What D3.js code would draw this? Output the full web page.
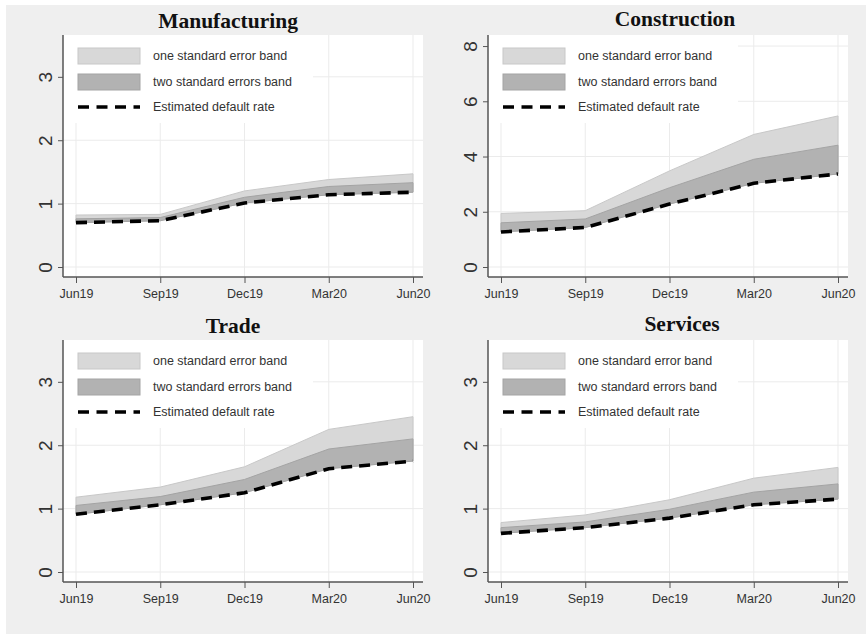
<!DOCTYPE html>
<html><head><meta charset="utf-8">
<script src="https://cdn.jsdelivr.net/npm/d3@7"></script>
<style>
html,body{margin:0;padding:0;background:#fff;}
svg{display:block;}
</style></head>
<body>
<script>
// ---- data ----
const quarters = ["Jun19","Sep19","Dec19","Mar20","Jun20"];
const panelTitles = ["Manufacturing","Construction","Trade","Services"];

const manufEst   = [0.70,0.73,1.01,1.14,1.18];
const manufTwo   = [0.76,0.78,1.10,1.27,1.33];
const manufOne   = [0.82,0.83,1.20,1.38,1.47];

const constrEst  = [1.27,1.43,2.28,3.03,3.37];
const constrTwo  = [1.60,1.74,2.87,3.90,4.41];
const constrOne  = [1.94,2.04,3.48,4.80,5.47];

const tradeEst   = [0.91,1.06,1.25,1.63,1.75];
const tradeTwo   = [1.05,1.19,1.46,1.94,2.10];
const tradeOne   = [1.18,1.34,1.66,2.25,2.45];

const servEst    = [0.61,0.70,0.85,1.06,1.15];
const servTwo    = [0.70,0.79,0.99,1.26,1.39];
const servOne    = [0.78,0.90,1.14,1.48,1.65];

const yTicksUnit   = [0,1,2,3];
const yTicksConstr = [0,2,4,6,8];

const legendLabels = ["one standard error band","two standard errors band","Estimated default rate"];

// ---- layout ----
const W = 867, H = 634;
const svg = d3.select("body").append("svg").attr("width", W).attr("height", H);
svg.append("rect").attr("x",6).attr("y",5).attr("width",W-7).attr("height",H-5).attr("fill","#efefef");

const panels = [
  {title:panelTitles[0], est:manufEst,  two:manufTwo,  one:manufOne,  ticks:yTicksUnit,   yTop:3.66, L:63,  T:35,  tx:228, ty:28},
  {title:panelTitles[1], est:constrEst, two:constrTwo, one:constrOne, ticks:yTicksConstr, yTop:8.4,  L:488, T:35,  tx:675, ty:26},
  {title:panelTitles[2], est:tradeEst,  two:tradeTwo,  one:tradeOne,  ticks:yTicksUnit,   yTop:3.66, L:63,  T:340, tx:233, ty:333},
  {title:panelTitles[3], est:servEst,   two:servTwo,   one:servOne,   ticks:yTicksUnit,   yTop:3.66, L:488, T:340, tx:682, ty:331}
];

const lightFill = "#d8d8d8", lightStroke = "#c8c8c8";
const darkFill = "#b2b2b2", darkStroke = "#a4a4a4";
const fontSans = "'Liberation Sans', Arial, sans-serif";
const fontSerif = "'Liberation Serif', 'Times New Roman', serif";

panels.forEach(p => {
  const g = svg.append("g");
  const PW = 360, PH = 242;
  const B = p.T + PH;
  const x = d3.scalePoint().domain(quarters).range([p.L + 13, p.L + 350]);
  const y = d3.scaleLinear().domain([0, p.yTop]).range([B - 10, p.T]);

  // plot region
  g.append("rect").attr("x", p.L).attr("y", p.T).attr("width", PW).attr("height", PH).attr("fill", "#fff");

  // grid
  g.selectAll(".hg").data(p.ticks).join("line")
    .attr("x1", p.L).attr("x2", p.L + PW)
    .attr("y1", d => y(d)).attr("y2", d => y(d))
    .attr("stroke", "#ebebeb").attr("stroke-width", 1);
  g.selectAll(".vg").data(quarters).join("line")
    .attr("x1", d => x(d)).attr("x2", d => x(d))
    .attr("y1", p.T).attr("y2", B)
    .attr("stroke", "#ebebeb").attr("stroke-width", 1);

  // legend background (covers grid)
  g.append("rect").attr("x", p.L + 1).attr("y", p.T).attr("width", 249).attr("height", 88).attr("fill", "#fff");

  const idx = d3.range(quarters.length);
  const areaOne = d3.area().x(i => x(quarters[i])).y0(i => y(p.est[i])).y1(i => y(p.one[i]));
  const areaTwo = d3.area().x(i => x(quarters[i])).y0(i => y(p.est[i])).y1(i => y(p.two[i]));
  g.append("path").datum(idx).attr("d", areaOne).attr("fill", lightFill).attr("stroke", lightStroke).attr("stroke-width", 1);
  g.append("path").datum(idx).attr("d", areaTwo).attr("fill", darkFill).attr("stroke", darkStroke).attr("stroke-width", 1);
  const line = d3.line().x(i => x(quarters[i])).y(i => y(p.est[i]));
  g.append("path").datum(idx).attr("d", line).attr("fill", "none")
    .attr("stroke", "#000").attr("stroke-width", 3.6).attr("stroke-dasharray", "11,7");

  // axes
  const yAxis = d3.axisLeft(y).tickValues(p.ticks).tickSize(5).tickFormat(d3.format("d"));
  const ya = g.append("g").attr("transform", `translate(${p.L},0)`).call(yAxis);
  ya.select(".domain").remove();
  ya.selectAll(".tick line").attr("stroke", "#555").attr("stroke-width", 1);
  ya.selectAll(".tick text")
    .attr("transform", "translate(-11,0) rotate(-90)").attr("x", 0).attr("y", 0)
    .attr("dy", "0").attr("text-anchor", "middle")
    .attr("font-family", fontSans).attr("font-size", 19).attr("fill", "#333");
  g.append("line").attr("x1", p.L).attr("x2", p.L).attr("y1", p.T).attr("y2", B)
    .attr("stroke", "#555").attr("stroke-width", 1.5);

  const xAxis = d3.axisBottom(x).tickSize(6).tickPadding(6);
  const xa = g.append("g").attr("transform", `translate(0,${B})`).call(xAxis);
  xa.select(".domain").remove();
  xa.selectAll(".tick line").attr("stroke", "#555").attr("stroke-width", 1);
  xa.selectAll(".tick text").attr("font-family", fontSans).attr("font-size", 12.5).attr("fill", "#333");
  g.append("line").attr("x1", p.L).attr("x2", p.L + PW).attr("y1", B).attr("y2", B)
    .attr("stroke", "#555").attr("stroke-width", 1.5);

  // legend
  const lx = p.L + 15, tx = p.L + 90;
  g.append("rect").attr("x", lx).attr("y", p.T + 13).attr("width", 62).attr("height", 16)
    .attr("fill", lightFill).attr("stroke", lightStroke).attr("stroke-width", 1);
  g.append("rect").attr("x", lx).attr("y", p.T + 39).attr("width", 62).attr("height", 16)
    .attr("fill", darkFill).attr("stroke", darkStroke).attr("stroke-width", 1);
  g.append("line").attr("x1", lx).attr("x2", lx + 62).attr("y1", p.T + 72).attr("y2", p.T + 72)
    .attr("stroke", "#000").attr("stroke-width", 3.6).attr("stroke-dasharray", "11,7.5");
  [21, 47, 72].forEach((dy, i) => {
    g.append("text").attr("x", tx).attr("y", p.T + dy).attr("dy", "0.35em")
      .attr("font-family", fontSans).attr("font-size", 12.5).attr("fill", "#333")
      .text(legendLabels[i]);
  });

  // title
  g.append("text").attr("x", p.tx).attr("y", p.ty).attr("text-anchor", "middle")
    .attr("font-family", fontSerif).attr("font-weight", "bold").attr("font-size", 21.5).attr("fill", "#111")
    .text(p.title);
});
</script>
</body></html>
